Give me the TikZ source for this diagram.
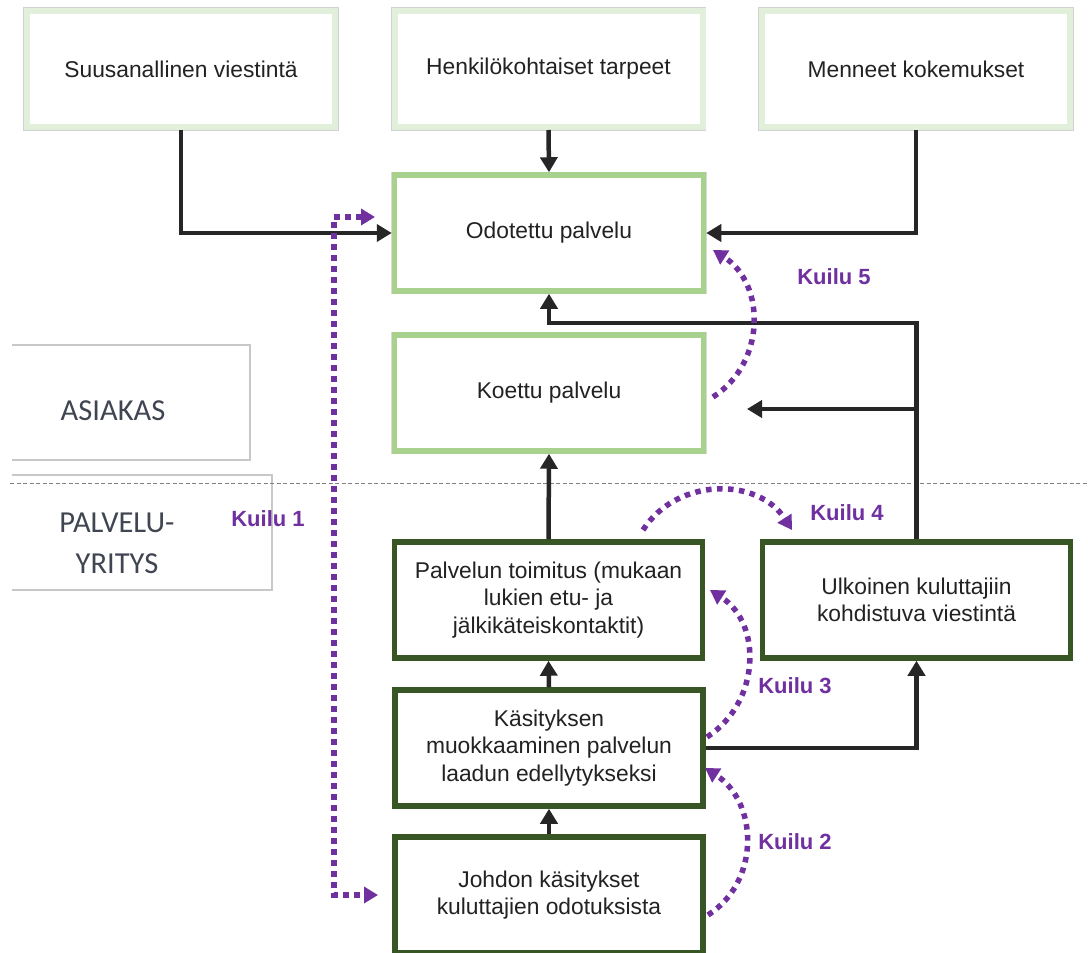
\documentclass[tikz,border=0pt]{standalone}
\usepackage{fontspec}
\setmainfont{Liberation Sans}
\newfontfamily\calibfont{Carlito}
\usetikzlibrary{arrows.meta}
\definecolor{boxtext}{HTML}{222222}
\definecolor{paleline}{HTML}{E2EFDA}
\definecolor{midgreen}{HTML}{A9D18E}
\definecolor{darkgreen}{HTML}{375623}
\definecolor{gappurple}{HTML}{7030A0}
\definecolor{linkblack}{HTML}{262626}
\definecolor{sidetext}{HTML}{404552}
\definecolor{sideframe}{HTML}{C8C8C8}

\begin{document}
\begin{tikzpicture}[x=1pt,y=-1pt,
  every node/.style={font=\fontsize{22.8}{27.5}\selectfont, text=boxtext, align=center, inner sep=0pt},
  sourcebox/.style={draw=paleline, line width=6pt, fill=white,
    minimum width=308pt, minimum height=116pt,
    preaction={draw=black!18, line width=7.5pt}},
  custbox/.style={draw=midgreen, line width=5.5pt, fill=white,
    minimum width=309pt, minimum height=116pt,
    preaction={draw=black!15, line width=6.7pt}},
  firmbox/.style={draw=darkgreen, line width=5.5pt, fill=white,
    minimum width=308pt, minimum height=116pt},
  sidelabel/.style={font=\calibfont\fontsize{30.5}{41}\selectfont, text=sidetext},
  gaplabel/.style={font=\bfseries\fontsize{22}{26}\selectfont, text=gappurple},
  link/.style={draw=linkblack, line width=4.5pt,
    -{Triangle[length=15pt,width=17pt]}},
  gap/.style={draw=gappurple, line width=5.5pt, dash pattern=on 5.5pt off 5.5pt,
    -{Triangle[length=14pt,width=16pt]}},
]
% canvas
\fill[white] (0,0) rectangle (1088,953);
\useasboundingbox (0,0) rectangle (1088,953);

% side frames for the two parties
\draw[sideframe, line width=1.2pt] (12,345) -- (250,345) -- (250,460) -- (12,460);
\draw[sideframe, line width=1.2pt] (12,475) -- (272,475) -- (272,590) -- (12,590);
\node[sidelabel] (asiakas) at (113,411) {ASIAKAS};
\node[sidelabel] (yritys) at (117,543) {PALVELU-\\YRITYS};

% boundary between customer and company
\draw[gray, line width=1pt, dash pattern=on 4pt off 2.5pt] (10,483) -- (1088,483);

% source boxes
\node[sourcebox] (word) at (181,69) {Suusanallinen viestintä};
\node[sourcebox] (needs) at (548.5,69) {Henkilökohtaiset tarpeet};
\node[sourcebox] (past) at (916,69) {Menneet kokemukset};

% customer side
\node[custbox] (expected) at (549,233) {Odotettu palvelu};
\node[custbox] (perceived) at (549,393) {Koettu palvelu};

% company side
\node[firmbox] (delivery) at (548.5,600) {Palvelun toimitus (mukaan\\lukien etu- ja\\jälkikäteiskontaktit)};
\node[firmbox] (external) at (916.5,600) {Ulkoinen kuluttajiin\\kohdistuva viestintä};
\node[firmbox] (specs) at (549,748) {Käsityksen\\muokkaaminen palvelun\\laadun edellytykseksi};
\node[firmbox] (mgmt) at (549,895) {Johdon käsitykset\\kuluttajien odotuksista};

% solid connectors
\draw[link] (word.south) |- (expected.west);
\draw[link] (needs.south) -- (expected.north);
\draw[link] (past.south) |- (expected.east);
\coordinate (bend) at (external.north |- 0,323);
\draw[link] (external.north) -- (bend) -| (expected.south);
\coordinate (branch) at (external.north |- 0,409);
\coordinate (promise) at (747,409);
\draw[link] (branch) -- (promise);
\draw[link] (delivery.north) -- (perceived.south);
\draw[link] (specs.north) -- (delivery.south);
\draw[link] (mgmt.north) -- (specs.south);
\draw[link] (specs.east) -| (external.south);

% gap 1
\coordinate (g1a) at (375,217);
\coordinate (g1b) at (334,217);
\coordinate (g1c) at (334,895);
\coordinate (g1d) at (378,895);
\draw[gap, {Triangle[length=14pt,width=16pt]}-{Triangle[length=14pt,width=16pt]}]
  (g1a) -- (g1b) -- (g1c) -- (g1d);
\node[gaplabel] (k1) at (268,519) {Kuilu 1};

% gap 2
\coordinate (g2s) at (708,915);
\coordinate (g2e) at (705,768);
\draw[gap] (g2s) .. controls (761,881) and (758,802) .. (g2e);
\node[gaplabel] (k2) at (795,842) {Kuilu 2};

% gap 3
\coordinate (g3s) at (707,737);
\coordinate (g3e) at (710,590);
\draw[gap] (g3s) .. controls (760,703) and (763,624) .. (g3e);
\node[gaplabel] (k3) at (795,686) {Kuilu 3};

% gap 4
\coordinate (g4s) at (643,530);
\coordinate (g4e) at (792,530);
\draw[gap] (g4s) .. controls (677,477) and (758,477) .. (g4e);
\node[gaplabel] (k4) at (847,513) {Kuilu 4};

% gap 5
\coordinate (g5s) at (713,397);
\coordinate (g5e) at (713,250);
\draw[gap] (g5s) .. controls (766,363) and (766,284) .. (g5e);
\node[gaplabel] (k5) at (834,277) {Kuilu 5};
\end{tikzpicture}
\end{document}
